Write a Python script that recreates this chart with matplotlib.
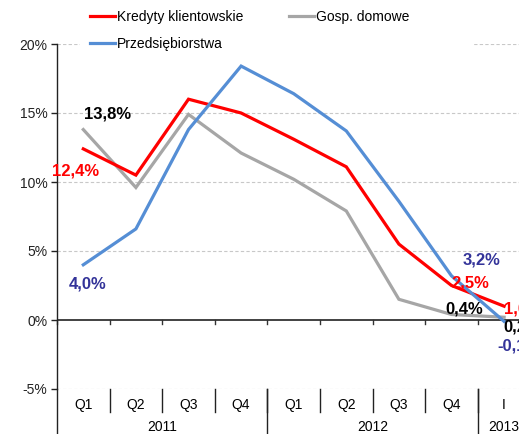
import matplotlib as mpl
import matplotlib.pyplot as plt
from matplotlib.patches import Rectangle

mpl.rcParams["font.family"] = ["Liberation Sans", "DejaVu Sans"]

# --- data ---
quarters = ["Q1", "Q2", "Q3", "Q4", "Q1", "Q2", "Q3", "Q4", "I"]
years = ["2011", "2012", "2013"]
year_spans = [(0, 3), (4, 7), (8, 8)]  # first / last category index of each year

kredyty = [12.4, 10.5, 16.0, 15.0, 13.1, 11.1, 5.5, 2.5, 1.0]
gosp_domowe = [13.8, 9.6, 14.9, 12.1, 10.2, 7.9, 1.5, 0.4, 0.2]
przedsiebiorstwa = [4.0, 6.6, 13.8, 18.4, 16.4, 13.7, 8.6, 3.2, -0.1]

yticks = [-5, 0, 5, 10, 15, 20]

# --- style ---
red = "#FF0000"
grey = "#A6A6A6"
blue = "#558ED5"
lab_blue = "#333399"
fs = 10
lab_fs = 12
lw = 2.3

fig = plt.figure(figsize=(5.19, 4.34), dpi=100)
ax = fig.add_axes([57 / 519, 45 / 434, 473.4 / 519, 345 / 434])

x = list(range(len(quarters)))
l_k, = ax.plot(x, kredyty, color=red, lw=lw, zorder=4, solid_joinstyle="miter")
l_g, = ax.plot(x, gosp_domowe, color=grey, lw=lw, zorder=3, solid_joinstyle="miter")
l_p, = ax.plot(x, przedsiebiorstwa, color=blue, lw=lw, zorder=5, solid_joinstyle="miter")

ax.set_xlim(-0.5, len(quarters) - 0.5)
ax.set_ylim(-5, 20)

# gridlines (dashed) and the solid zero line
for v in yticks:
    if v != 0:
        ax.axhline(v, color="#C8C8C8", lw=0.8, ls=(0, (3, 2)), zorder=1)
ax.axhline(0, color="#333333", lw=1.3, zorder=2)
for b in range(len(quarters) + 1):
    ax.plot([b - 0.5, b - 0.5], [0, -0.3], color="#333333", lw=1.0, zorder=2, clip_on=False)

for s in ["top", "right", "bottom"]:
    ax.spines[s].set_visible(False)
ax.spines["left"].set_color("#222222")
ax.spines["left"].set_linewidth(1.0)

ax.set_yticks(yticks)
ax.set_yticklabels([f"{v}%" for v in yticks], fontsize=fs)
ax.tick_params(axis="y", direction="out", length=4, width=1, pad=3, colors="#222222")
ax.set_xticks([])

# multi-level category axis below the plot area
tr = ax.get_xaxis_transform()
for i, q in enumerate(quarters):
    ax.text(i, -0.046, q, ha="center", va="center", fontsize=fs, transform=tr, clip_on=False)
for b in range(1, len(quarters)):
    ax.plot([b - 0.5, b - 0.5], [0, -0.066], color="#222222", lw=1.0, transform=tr, clip_on=False)
ax.plot([-0.5, -0.5], [0, -0.2], color="#222222", lw=1.0, transform=tr, clip_on=False)
for yr, (a, b) in zip(years, year_spans):
    ax.text((a + b) / 2, -0.109, yr, ha="center", va="center", fontsize=fs, transform=tr, clip_on=False)
    if a > 0:
        ax.plot([a - 0.5, a - 0.5], [0, -0.2], color="#222222", lw=1.0, transform=tr, clip_on=False)

# data labels
def lab(i, series, text, color, dx, dy, ha="center"):
    ax.annotate(text, xy=(i, series[i]), xytext=(dx, dy), textcoords="offset pixels",
                ha=ha, va="center", fontsize=lab_fs, fontweight="bold", color=color,
                zorder=6, annotation_clip=False)

def fmt(v):
    return f"{v:.1f}%".replace(".", ",")

lab(0, kredyty, fmt(kredyty[0]), red, -8, -22)
lab(0, gosp_domowe, fmt(gosp_domowe[0]), "black", 24, 16)
lab(0, przedsiebiorstwa, fmt(przedsiebiorstwa[0]), lab_blue, 4, -19)
lab(7, przedsiebiorstwa, fmt(przedsiebiorstwa[7]), lab_blue, 30, 16)
lab(7, kredyty, fmt(kredyty[7]), red, 19, 3)
lab(7, gosp_domowe, fmt(gosp_domowe[7]), "black", 13, 5)
# the last column runs past the right edge of the picture, as in the original
lab(8, kredyty, fmt(kredyty[8]), red, 0, -3, ha="left")
lab(8, gosp_domowe, fmt(gosp_domowe[8]), "black", -1, -10, ha="left")
lab(8, przedsiebiorstwa, fmt(przedsiebiorstwa[8]), lab_blue, -7, -25, ha="left")

# legend on a white box (hides the 20% gridline behind it)
fig.add_artist(Rectangle((80 / 519, 1 - 57 / 434), 393 / 519, 54 / 434,
                         transform=fig.transFigure, facecolor="white", edgecolor="none", zorder=3))
leg = fig.legend([l_k, l_p, l_g], ["Kredyty klientowskie", "Przedsiębiorstwa", "Gosp. domowe"],
                 loc="upper left", bbox_to_anchor=(90 / 519, 1 - 10 / 434), ncol=2, frameon=False,
                 fontsize=fs, borderpad=0, borderaxespad=0, handlelength=1.8, handletextpad=0.15,
                 columnspacing=3.3, labelspacing=0.95)
leg.set_zorder(4)

fig.savefig("out.png", dpi=100, facecolor="white")
